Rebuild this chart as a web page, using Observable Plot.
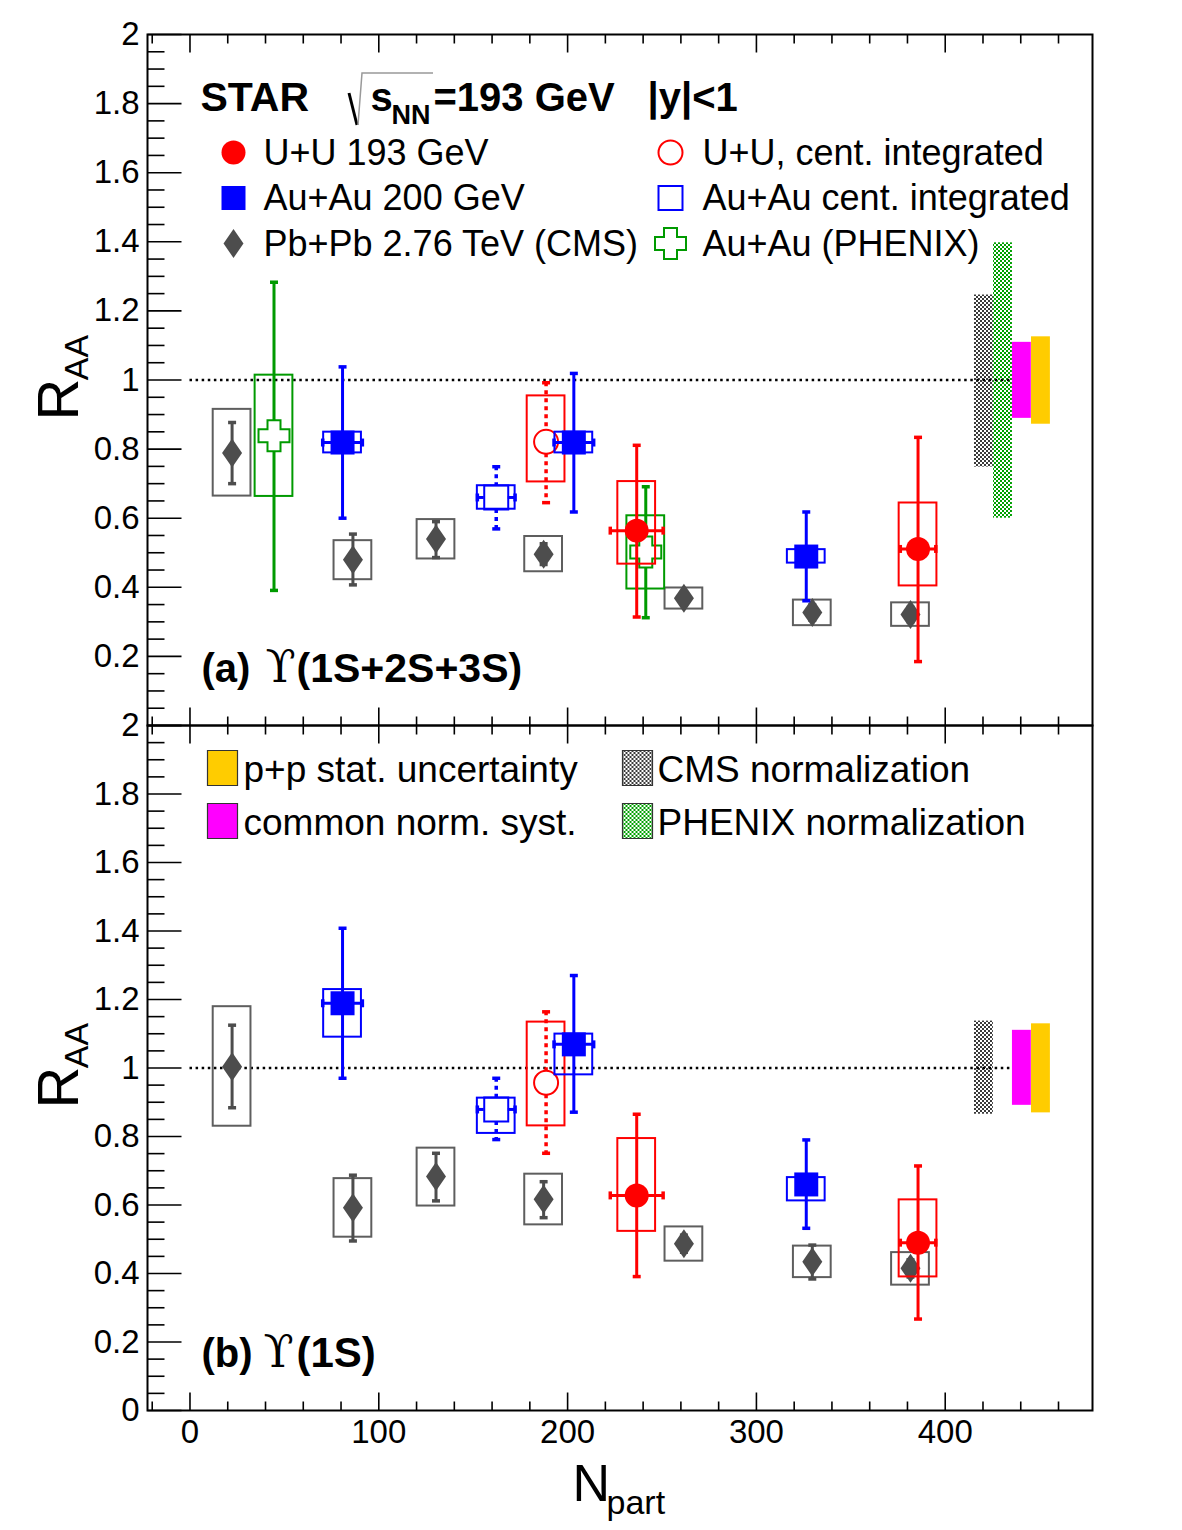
<!DOCTYPE html>
<html>
<head>
<meta charset="utf-8">
<script src="https://cdn.jsdelivr.net/npm/d3@7"></script>
<script src="https://cdn.jsdelivr.net/npm/@observablehq/plot@0.6"></script>
<style>
html,body{margin:0;padding:0;background:#fff;}
#wrap{position:relative;width:1182px;height:1530px;overflow:hidden;background:#fff;}
#wrap svg{position:absolute;left:0;}
</style>
</head>
<body>
<div id="wrap"></div>
<script>
// ---------------- DATA ----------------
// Axis ticks
const X_TICKS = [0, 100, 200, 300, 400];
const Y_TICKS = [0, 0.2, 0.4, 0.6, 0.8, 1, 1.2, 1.4, 1.6, 1.8, 2];
const X_DOMAIN = [-22.5, 478];

// Panel (a): Upsilon(1S+2S+3S)
const uuA = [
  {N: 236.6, R: 0.564, lo: 0.314, hi: 0.811, sLo: 0.467, sHi: 0.706, dN: 14},
  {N: 385.6, R: 0.511, lo: 0.185, hi: 0.834, sLo: 0.404, sHi: 0.644, dN: 9.4}
];
const uuIntA = [{N: 188.6, R: 0.821, lo: 0.645, hi: 0.992, sLo: 0.705, sHi: 0.954, dN: 0}];
const auA = [
  {N: 80.8, R: 0.819, lo: 0.600, hi: 1.038, sLo: 0.789, sHi: 0.849, dN: 10.5},
  {N: 203.3, R: 0.819, lo: 0.618, hi: 1.019, sLo: 0.789, sHi: 0.849, dN: 10.5},
  {N: 326.4, R: 0.489, lo: 0.361, hi: 0.618, sLo: 0.470, sHi: 0.509, dN: 0}
];
const auIntA = [{N: 162.2, R: 0.660, lo: 0.569, hi: 0.749, sLo: 0.626, sHi: 0.694, dN: 10}];
const cmsA = [
  {N: 22.3, R: 0.789, lo: 0.700, hi: 0.877, sLo: 0.664, sHi: 0.915},
  {N: 86.3, R: 0.480, lo: 0.407, hi: 0.554, sLo: 0.422, sHi: 0.535},
  {N: 130.3, R: 0.540, lo: 0.486, hi: 0.590, sLo: 0.482, sHi: 0.596},
  {N: 187.3, R: 0.496, lo: 0.466, hi: 0.526, sLo: 0.445, sHi: 0.547},
  {N: 261.6, R: 0.368, lo: 0.350, hi: 0.386, sLo: 0.337, sHi: 0.398},
  {N: 329.6, R: 0.327, lo: 0.305, hi: 0.349, sLo: 0.289, sHi: 0.363},
  {N: 381.6, R: 0.321, lo: 0.300, hi: 0.342, sLo: 0.287, sHi: 0.355}
];
const phenixA = [
  {N: 44.5, R: 0.839, lo: 0.391, hi: 1.283, sLo: 0.663, sHi: 1.014},
  {N: 241.4, R: 0.502, lo: 0.312, hi: 0.691, sLo: 0.395, sHi: 0.607}
];
const normA = [
  {kind: "cms", N: 420.5, lo: 0.748, hi: 1.246},
  {kind: "phenix", N: 430.6, lo: 0.600, hi: 1.397},
  {kind: "common", N: 440.6, lo: 0.889, hi: 1.109},
  {kind: "pp", N: 450.7, lo: 0.872, hi: 1.125}
];

// Panel (b): Upsilon(1S)
const uuB = [
  {N: 236.6, R: 0.628, lo: 0.391, hi: 0.865, sLo: 0.523, sHi: 0.794, dN: 14},
  {N: 385.6, R: 0.490, lo: 0.267, hi: 0.714, sLo: 0.390, sHi: 0.615, dN: 9.4}
];
const uuIntB = [{N: 188.6, R: 0.957, lo: 0.751, hi: 1.164, sLo: 0.831, sHi: 1.134, dN: 0}];
const auB = [
  {N: 80.8, R: 1.189, lo: 0.970, hi: 1.408, sLo: 1.090, sHi: 1.229, dN: 10.5},
  {N: 203.3, R: 1.069, lo: 0.871, hi: 1.270, sLo: 0.980, sHi: 1.099, dN: 10.5},
  {N: 326.4, R: 0.660, lo: 0.532, hi: 0.790, sLo: 0.612, sHi: 0.680, dN: 0}
];
const auIntB = [{N: 162.2, R: 0.879, lo: 0.791, hi: 0.970, sLo: 0.809, sHi: 0.912, dN: 10}];
const cmsB = [
  {N: 22.3, R: 1.004, lo: 0.884, hi: 1.125, sLo: 0.830, sHi: 1.179},
  {N: 86.3, R: 0.592, lo: 0.495, hi: 0.687, sLo: 0.506, sHi: 0.677},
  {N: 130.3, R: 0.683, lo: 0.612, hi: 0.751, sLo: 0.597, sHi: 0.766},
  {N: 187.3, R: 0.617, lo: 0.563, hi: 0.668, sLo: 0.542, sHi: 0.690},
  {N: 261.6, R: 0.487, lo: 0.462, hi: 0.512, sLo: 0.436, sHi: 0.536},
  {N: 329.6, R: 0.434, lo: 0.384, hi: 0.483, sLo: 0.388, sHi: 0.480},
  {N: 381.6, R: 0.415, lo: 0.390, hi: 0.440, sLo: 0.366, sHi: 0.461}
];
const normB = [
  {kind: "cms", N: 420.5, lo: 0.865, hi: 1.137},
  {kind: "common", N: 440.6, lo: 0.891, hi: 1.110},
  {kind: "pp", N: 450.7, lo: 0.869, hi: 1.129}
];
const REF_LINE = [{R: 1, N1: 0, N2: 435.6}];

// Legend texts
const legendA = [
  {label: "U+U 193 GeV", key: "uu", col: 0, row: 0},
  {label: "Au+Au 200 GeV", key: "au", col: 0, row: 1},
  {label: "Pb+Pb 2.76 TeV (CMS)", key: "cms", col: 0, row: 2},
  {label: "U+U, cent. integrated", key: "uuInt", col: 1, row: 0},
  {label: "Au+Au cent. integrated", key: "auInt", col: 1, row: 1},
  {label: "Au+Au (PHENIX)", key: "phenix", col: 1, row: 2}
];
const legendB = [
  {label: "p+p stat. uncertainty", key: "pp", col: 0, row: 0},
  {label: "common norm. syst.", key: "common", col: 0, row: 1},
  {label: "CMS normalization", key: "cms", col: 1, row: 0},
  {label: "PHENIX normalization", key: "phenix", col: 1, row: 1}
];

// ---------------- STYLE ----------------
const FONT = "Liberation Sans, Arial, Helvetica, sans-serif";
const W = 1182, ML = 147, MR = 90;
const BOX_HALF = 10;     // half width of systematic boxes (Npart units)
const BAND_HALF = 5;     // half width of normalization bands
const RED = "#ff0000", BLUE = "#0000ff", GREEN = "#009a00", GRAY = "#4d4d4d", GRAYBOX = "#5e5e5e";
const BAND_FILL = {cms: "url(#chkCMS)", phenix: "url(#chkPHX)", common: "#ff00ff", pp: "#ffcc00"};

const seg = (x1, y1, x2, y2) => ({draw(c) { c.moveTo(x1, y1); c.lineTo(x2, y2); }});
const rectSym = (w, h) => ({draw(c) { c.moveTo(-w, -h); c.lineTo(w, -h); c.lineTo(w, h); c.lineTo(-w, h); c.closePath(); }});
const SQUARE = rectSym(12, 12);
const DIAMOND = {draw(c) { c.moveTo(0, -14.5); c.lineTo(10, 0); c.lineTo(0, 14.5); c.lineTo(-10, 0); c.closePath(); }};
const CROSS = {draw(c) {
  const a = 6.5, b = 15.5;
  c.moveTo(-a, -b); c.lineTo(a, -b); c.lineTo(a, -a); c.lineTo(b, -a); c.lineTo(b, a); c.lineTo(a, a);
  c.lineTo(a, b); c.lineTo(-a, b); c.lineTo(-a, a); c.lineTo(-b, a); c.lineTo(-b, -a); c.lineTo(-a, -a); c.closePath();
}};
const CAP_H = seg(-4, 0, 4, 0);
const CAP_V = seg(0, -4, 0, 4);

const STYLES = {
  uu:     {color: RED, box: RED, sw: 3, symbol: "circle", r: 12, fill: RED, stroke: "none", msw: 0, hole: 0},
  uuInt:  {color: RED, box: RED, sw: 3.5, dash: "4,4", symbol: "circle", r: 12, fill: "white", stroke: RED, msw: 2, hole: 12},
  au:     {color: BLUE, box: BLUE, sw: 3, symbol: SQUARE, fill: BLUE, stroke: "none", msw: 0, hole: 0},
  auInt:  {color: BLUE, box: BLUE, sw: 3.5, dash: "4,4", symbol: SQUARE, fill: "none", stroke: BLUE, msw: 2, hole: 12},
  cms:    {color: GRAY, box: GRAYBOX, sw: 3, symbol: DIAMOND, fill: GRAY, stroke: "none", msw: 0, hole: 0},
  phenix: {color: GREEN, box: GREEN, sw: 3, symbol: CROSS, fill: "white", stroke: GREEN, msw: 2, hole: 0}
};

function series(data, st) {
  const m = [];
  m.push(Plot.rect(data, {x1: d => d.N - BOX_HALF, x2: d => d.N + BOX_HALF, y1: "sLo", y2: "sHi", fill: "none", stroke: st.box, strokeWidth: 2}));
  const bar = {stroke: st.color, strokeWidth: st.sw, strokeDasharray: st.dash};
  if (st.hole) {
    m.push(Plot.ruleX(data, {x: "N", y1: "hi", y2: "R", insetBottom: st.hole, ...bar}));
    m.push(Plot.ruleX(data, {x: "N", y1: "R", y2: "lo", insetTop: st.hole, ...bar}));
  } else {
    m.push(Plot.ruleX(data, {x: "N", y1: "hi", y2: "lo", ...bar}));
  }
  m.push(Plot.dot(data, {x: "N", y: "hi", symbol: CAP_H, fill: "none", stroke: st.color, strokeWidth: 3.5}));
  m.push(Plot.dot(data, {x: "N", y: "lo", symbol: CAP_H, fill: "none", stroke: st.color, strokeWidth: 3.5}));
  const hd = data.filter(d => d.dN);
  if (hd.length) {
    if (st.hole) {
      m.push(Plot.ruleY(hd, {y: "R", x1: d => d.N - d.dN, x2: "N", insetRight: st.hole, stroke: st.color, strokeWidth: 3}));
      m.push(Plot.ruleY(hd, {y: "R", x1: "N", x2: d => d.N + d.dN, insetLeft: st.hole, stroke: st.color, strokeWidth: 3}));
    } else {
      m.push(Plot.ruleY(hd, {y: "R", x1: d => d.N - d.dN, x2: d => d.N + d.dN, stroke: st.color, strokeWidth: 3}));
    }
    m.push(Plot.dot(hd, {x: d => d.N - d.dN, y: "R", symbol: CAP_V, fill: "none", stroke: st.color, strokeWidth: 3.5}));
    m.push(Plot.dot(hd, {x: d => d.N + d.dN, y: "R", symbol: CAP_V, fill: "none", stroke: st.color, strokeWidth: 3.5}));
  }
  m.push(Plot.dot(data, {x: "N", y: "R", symbol: st.symbol, r: st.r, fill: st.fill, stroke: st.stroke, strokeWidth: st.msw}));
  return m;
}

function bands(norm) {
  return norm.map(d => Plot.rect([d], {x1: e => e.N - BAND_HALF, x2: e => e.N + BAND_HALF, y1: "lo", y2: "hi", fill: BAND_FILL[d.kind]}));
}

function refLine() {
  return Plot.ruleY(REF_LINE, {y: "R", x1: "N1", x2: "N2", stroke: "black", strokeWidth: 2.5, strokeDasharray: "2.5,3.6"});
}

function frameTicks() {
  const [x0] = X_DOMAIN;
  const yMinor = d3.range(0, 41).filter(i => i % 4 !== 0).map(i => i * 0.05);
  const xMinor = d3.range(-20, 470, 20).filter(v => v % 100 !== 0);
  const tk = {fill: "none", stroke: "black", strokeWidth: 1.6};
  return [
    Plot.dot(Y_TICKS, {x: () => x0, y: d => d, symbol: seg(0, 0, 34, 0), ...tk}),
    Plot.dot(yMinor, {x: () => x0, y: d => d, symbol: seg(0, 0, 17, 0), ...tk}),
    Plot.dot(X_TICKS, {x: d => d, y: () => 0, symbol: seg(0, 0, 0, -18), ...tk}),
    Plot.dot(xMinor, {x: d => d, y: () => 0, symbol: seg(0, 0, 0, -9), ...tk}),
    Plot.dot(X_TICKS, {x: d => d, y: () => 2, symbol: seg(0, 0, 0, 18), ...tk}),
    Plot.dot(xMinor, {x: d => d, y: () => 2, symbol: seg(0, 0, 0, 9), ...tk})
  ];
}

// text placed by page pixel position (baseline)
function txt(P, str, x, base, o = {}) {
  return Plot.text([str], {
    text: d => d, frameAnchor: "top-left", dx: x - ML, dy: base - P.off - P.top,
    textAnchor: o.anchor || "start", lineAnchor: "bottom", fontSize: o.size || 36,
    fontWeight: o.weight || "normal", fontFamily: o.family || FONT, fill: o.fill || "black", rotate: o.rotate || 0
  });
}
function sym(P, key, x, y) {
  const st = STYLES[key];
  return Plot.dot([key], {frameAnchor: "top-left", dx: x - ML, dy: y - P.off - P.top, symbol: st.symbol, r: st.r,
    fill: st.fill, stroke: st.stroke, strokeWidth: st.msw});
}
function swatch(P, key, x, y) {
  return Plot.dot([key], {frameAnchor: "top-left", dx: x - ML, dy: y - P.off - P.top, symbol: rectSym(15, 17.5),
    fill: BAND_FILL[key], stroke: "#333", strokeWidth: 1.2});
}

const PA = {off: 0, top: 34, height: 726, bottom: 1};
const PB = {off: 690, top: 35, height: 840, bottom: 120};
const fmt = d => String(+d.toFixed(1));

function axisTitle(P, centerY) {
  return [
    txt(P, "R", 77, centerY, {size: 58, rotate: -90, anchor: "middle"}),
    txt(P, "AA", 87, centerY - 42, {size: 34, rotate: -90, anchor: "middle"})
  ];
}

// ---------- Panel A ----------
const marksA = [
  ...bands(normA),
  refLine(),
  ...series(cmsA, STYLES.cms),
  ...series(phenixA, STYLES.phenix),
  ...series(uuIntA, STYLES.uuInt),
  ...series(auIntA, STYLES.auInt),
  ...series(auA, STYLES.au),
  ...series(uuA, STYLES.uu),
  ...frameTicks(),
  Plot.frame({stroke: "black", strokeWidth: 2}),
  Plot.axisY(Y_TICKS.filter(v => v > 0), {anchor: "left", tickSize: 0, tickPadding: 8, tickFormat: fmt, fontSize: 33, fontFamily: FONT, label: null}),
  // header
  txt(PA, "STAR", 200, 110, {size: 41, weight: "bold"}),
  txt(PA, "s", 370, 110, {size: 40, weight: "bold"}),
  txt(PA, "NN", 391, 123, {size: 27, weight: "bold"}),
  txt(PA, "=193 GeV", 433, 110, {size: 40, weight: "bold"}),
  txt(PA, "|y|<1", 647, 110, {size: 40, weight: "bold"}),
  // legend
  ...legendA.map(d => sym(PA, d.key, d.col ? 670 : 233, 152 + 45.5 * d.row)),
  ...legendA.map(d => txt(PA, d.label, d.col ? 702 : 263, 164 + 45.5 * d.row, {size: 36})),
  // panel label
  txt(PA, "(a)", 201, 681, {size: 40, weight: "bold"}),
  txt(PA, "\u03D2", 265, 681, {size: 44, family: "DejaVu Serif, serif"}),
  txt(PA, "(1S+2S+3S)", 296, 681, {size: 41, weight: "bold"}),
  ...axisTitle(PA, 399)
];

const svgA = Plot.plot({
  width: W, height: PA.height, marginTop: PA.top, marginBottom: PA.bottom, marginLeft: ML, marginRight: MR,
  x: {domain: X_DOMAIN, axis: null}, y: {domain: [0, 2], axis: null},
  style: {fontFamily: FONT, fontSize: "33px", background: "transparent", overflow: "visible"},
  marks: marksA
});

// ---------- Panel B ----------
const marksB = [
  ...bands(normB),
  refLine(),
  ...series(cmsB, STYLES.cms),
  ...series(uuIntB, STYLES.uuInt),
  ...series(auIntB, STYLES.auInt),
  ...series(auB, STYLES.au),
  ...series(uuB, STYLES.uu),
  ...frameTicks(),
  Plot.frame({stroke: "black", strokeWidth: 2}),
  Plot.axisY(Y_TICKS, {anchor: "left", tickSize: 0, tickPadding: 8, tickFormat: fmt, fontSize: 33, fontFamily: FONT, label: null}),
  Plot.axisX(X_TICKS, {anchor: "bottom", tickSize: 0, tickPadding: 9, tickFormat: d => String(d), fontSize: 33, fontFamily: FONT, label: null}),
  ...legendB.map(d => swatch(PB, d.key, d.col ? 637 : 222, 767.5 + 53 * d.row)),
  ...legendB.map(d => txt(PB, d.label, d.col ? 657 : 243, 781 + 53 * d.row, {size: 37})),
  txt(PB, "(b)", 201, 1366, {size: 40, weight: "bold"}),
  txt(PB, "\u03D2", 263, 1366, {size: 44, family: "DejaVu Serif, serif"}),
  txt(PB, "(1S)", 296, 1366, {size: 42, weight: "bold"}),
  ...axisTitle(PB, 1087),
  txt(PB, "N", 572, 1500, {size: 52}),
  txt(PB, "part", 606, 1513, {size: 34})
];

const svgB = Plot.plot({
  width: W, height: PB.height, marginTop: PB.top, marginBottom: PB.bottom, marginLeft: ML, marginRight: MR,
  x: {domain: X_DOMAIN, axis: null}, y: {domain: [0, 2], axis: null},
  style: {fontFamily: FONT, fontSize: "33px", background: "transparent", overflow: "visible"},
  marks: marksB
});

// patterns
const defsHTML = `
<pattern id="chkCMS" width="4" height="4" patternUnits="userSpaceOnUse">
  <rect width="4" height="4" fill="#ffffff"/><rect width="2" height="2" fill="#3a3a3a"/><rect x="2" y="2" width="2" height="2" fill="#3a3a3a"/>
</pattern>
<pattern id="chkPHX" width="4" height="4" patternUnits="userSpaceOnUse">
  <rect width="4" height="4" fill="#ffffff"/><rect width="2" height="2" fill="#00a000"/><rect x="2" y="2" width="2" height="2" fill="#00a000"/>
</pattern>`;
d3.select(svgA).insert("defs", ":first-child").html(defsHTML);

// square-root sign of the header
d3.select(svgA).append("path").attr("d", "M349,93 L357,125").attr("stroke", "black").attr("stroke-width", 3).attr("fill", "none");
d3.select(svgA).append("path").attr("d", "M358,125 L362,73 L433,73").attr("stroke", "#999").attr("stroke-width", 1.5).attr("fill", "none");

svgA.style.top = "0px";
svgB.style.top = PB.off + "px";
document.getElementById("wrap").append(svgA, svgB);
</script>
</body>
</html>
